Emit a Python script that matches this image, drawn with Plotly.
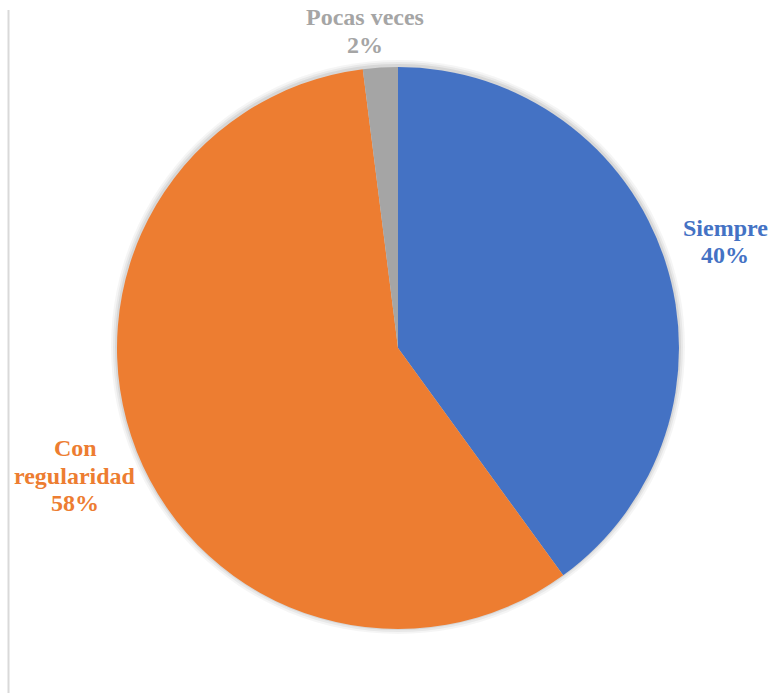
import math
import textwrap
import plotly.graph_objects as go

# Survey answer shares (percent)
labels = ["Siempre", "Con regularidad", "Pocas veces"]
values = [40, 58, 2]
colors = ["#4472C4", "#ED7D31", "#A5A5A5"]
# distance of each label from the centre (in pie radii) and sideways nudge (px)
label_radius = [1.224, 1.235, 1.13]
label_nudge_x = [0, 0, -13]

W, H = 773, 693
cx, cy, R = 398, 348, 281  # pie centre and radius in pixels (y from top)
LABEL_FONT = "Liberation Serif"
FONT_SIZE = 24
LINE_GAP = 27.5  # baseline-to-baseline distance of label lines

fig = go.Figure()
fig.add_trace(go.Pie(
    labels=labels,
    values=values,
    marker=dict(colors=colors, line=dict(width=0)),
    sort=False,
    direction="clockwise",
    rotation=0,
    textinfo="none",
    hoverinfo="label+percent",
    showlegend=False,
    domain=dict(x=[(cx - R) / W, (cx + R) / W],
                y=[(H - cy - R) / H, (H - cy + R) / H]),
))

# soft shadow under the pie
shapes = []
for grow, alpha in [(6, 0.04), (4, 0.05), (2, 0.07)]:
    r = R + grow
    shapes.append(dict(
        type="circle", xref="paper", yref="paper", layer="below",
        x0=(cx - r) / W, x1=(cx + r) / W,
        y0=(H - cy - r + 1) / H, y1=(H - cy + r + 1) / H,
        fillcolor=f"rgba(0,0,0,{alpha})", line=dict(width=0),
    ))
# thin frame line on the left
shapes.append(dict(type="line", xref="paper", yref="paper",
                   x0=8.5 / W, x1=8.5 / W, y0=0, y1=(H - 10) / H,
                   line=dict(color="#D9D9D9", width=2)))

# outside labels placed at each slice's mid angle, one annotation per line
total = sum(values)
annotations = []
start = 0.0
for lab, val, col, rf, nx in zip(labels, values, colors, label_radius, label_nudge_x):
    frac = val / total
    mid = (start + frac / 2) * 2 * math.pi
    start += frac
    px = cx + rf * R * math.sin(mid) + nx
    py = cy - rf * R * math.cos(mid)
    pct = round(frac * 100)
    lines = textwrap.wrap(lab, 12) + [f"{pct}%"]
    n = len(lines)
    for i, line in enumerate(lines):
        ly = py + (i - (n - 1) / 2) * LINE_GAP
        annotations.append(dict(
            x=px / W, y=(H - ly) / H, xref="paper", yref="paper",
            text=line, showarrow=False,
            font=dict(family=LABEL_FONT, size=FONT_SIZE, color=col, weight="bold"),
            align="center", xanchor="center", yanchor="middle",
        ))

fig.update_layout(
    width=W, height=H,
    margin=dict(l=0, r=0, t=0, b=0),
    font=dict(family=LABEL_FONT),
    paper_bgcolor="white", plot_bgcolor="white",
    shapes=shapes, annotations=annotations,
)
fig.write_html("out.html")
